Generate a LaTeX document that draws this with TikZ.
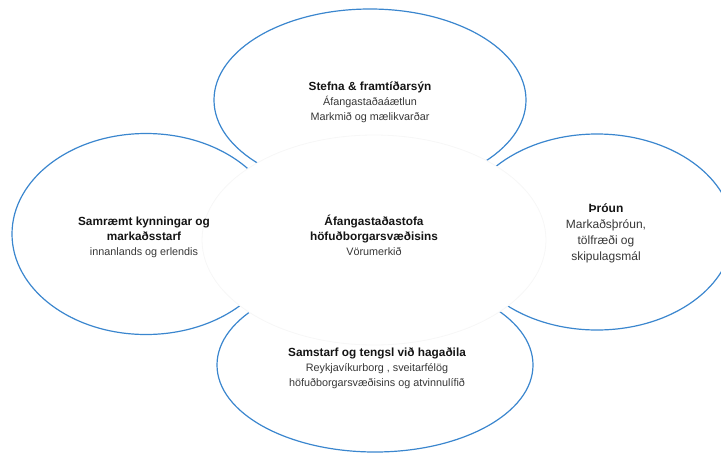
\documentclass[tikz,border=0pt]{standalone}
\usepackage{fontspec}
\setmainfont{Liberation Sans}
\usetikzlibrary{shapes.geometric}
\definecolor{ringblue}{RGB}{58,134,206}
\definecolor{headtext}{RGB}{20,20,20}
\definecolor{subtext}{RGB}{55,55,55}
\begin{document}
\begin{tikzpicture}[x=1pt,y=-1pt,
  ring/.style={ellipse, draw=ringblue, line width=1.2pt, inner sep=0pt},
  hub/.style={ellipse, draw=black!3, fill=white, line width=0.8pt, inner sep=0pt},
  label/.style={align=center, inner sep=0pt, text=subtext, font=\fontsize{10.8}{15}\selectfont},
  bigl/.style={align=center, inner sep=0pt, text=subtext, font=\fontsize{12}{16}\selectfont}
]
\useasboundingbox (0,0) rectangle (721,453);
\clip (0,0) rectangle (721,453);
% outer rings
\node[ring, minimum width=312pt, minimum height=182pt] (top) at (370,100) {};
\node[ring, minimum width=268pt, minimum height=201pt] (left) at (146,234) {};
\node[ring, minimum width=272pt, minimum height=196pt] (right) at (597,232) {};
\node[ring, minimum width=316pt, minimum height=174pt] (bottom) at (375,365) {};
% central hub
\node[hub, minimum width=344pt, minimum height=210pt] (hub) at (374,240) {};
% texts
\node[label] (ttop) at (370,102)
  {\textcolor{headtext}{\fontsize{11.8}{15}\selectfont\bfseries Stefna \& framtíðarsýn}\\
   Áfangastaðaáætlun\\ Markmið og mælikvarðar};
\node[label] (tleft) at (144,237)
  {\textcolor{headtext}{\fontsize{11.8}{15}\selectfont\bfseries Samræmt kynningar og}\\
   \textcolor{headtext}{\fontsize{11.8}{15}\selectfont\bfseries markaðsstarf}\\
   innanlands og erlendis};
\node[label] (thub) at (374,235)
  {\textcolor{headtext}{\fontsize{11.8}{15}\selectfont\bfseries Áfangastaðastofa}\\
   \textcolor{headtext}{\fontsize{11.8}{15}\selectfont\bfseries höfuðborgarsvæðisins}\\
   Vörumerkið};
\node[bigl] (tright) at (606,233)
  {\textcolor{headtext}{\bfseries Þróun}\\ Markaðsþróun,\\ tölfræði og\\ skipulagsmál};
\node[label] (tbottom) at (377,368)
  {\textcolor{headtext}{\fontsize{11.8}{15}\selectfont\bfseries Samstarf og tengsl við hagaðila}\\
   Reykjavíkurborg , sveitarfélög\\ höfuðborgarsvæðisins og atvinnulífið};
\end{tikzpicture}
\end{document}
